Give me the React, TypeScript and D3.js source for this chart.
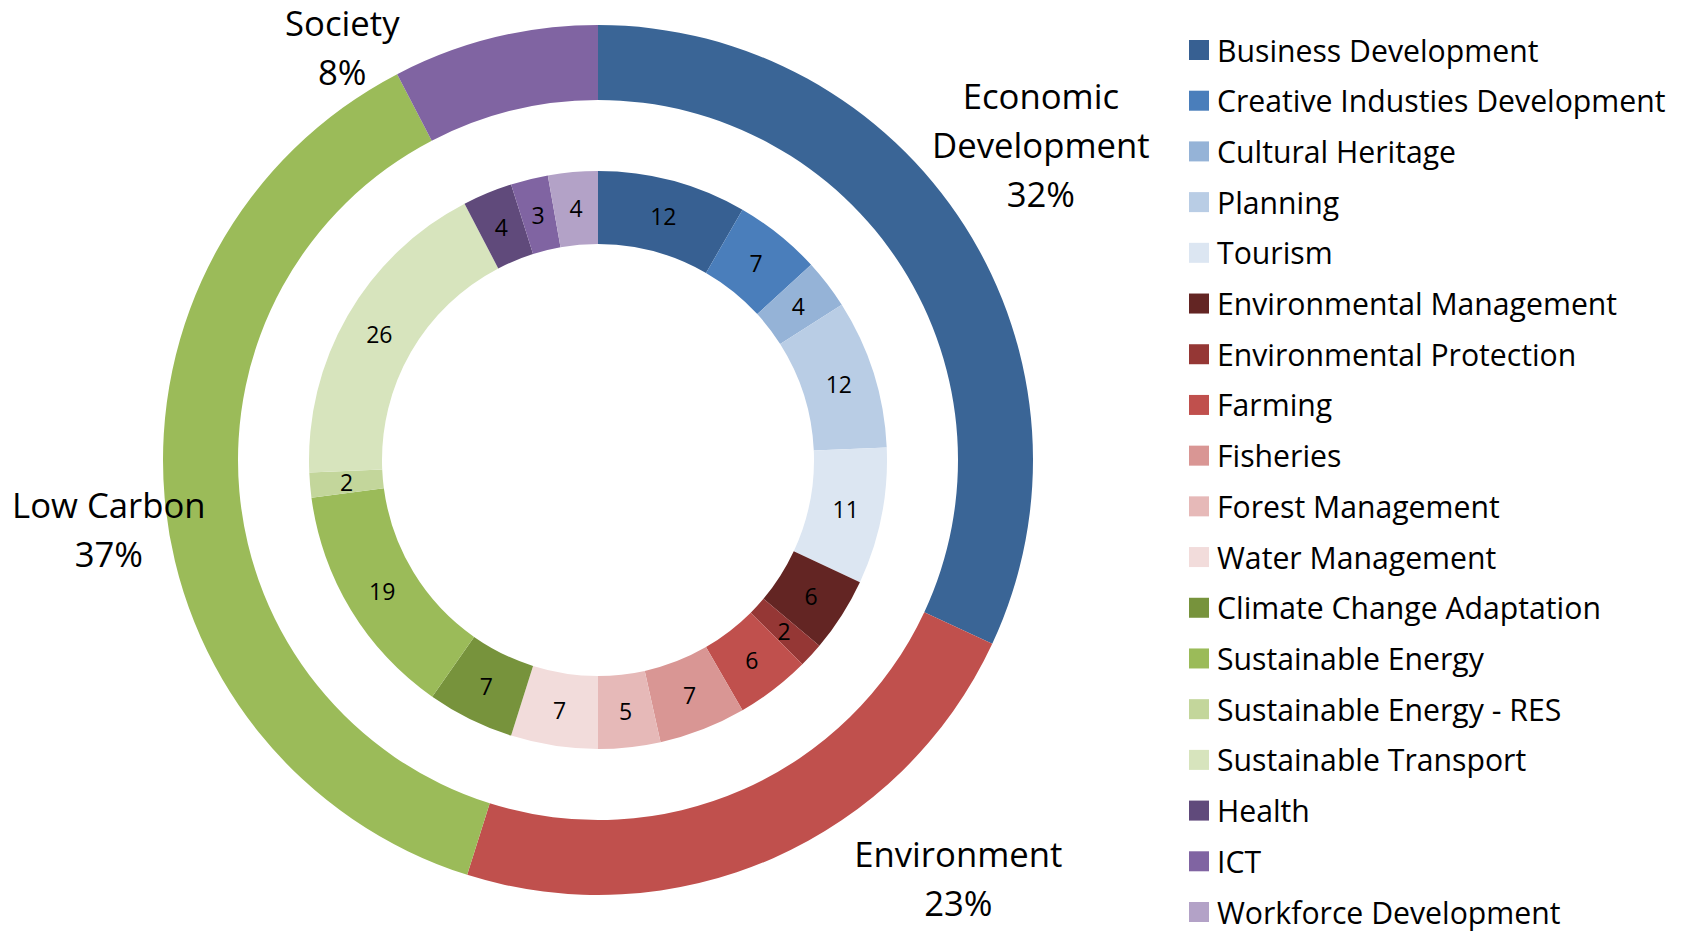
import React, { useRef, useEffect } from 'react';
import * as d3 from 'd3';

// inner ring: themes (in drawing order, clockwise from 12 o'clock)
const themes = [
  'Business Development', 'Creative Industies Development', 'Cultural Heritage', 'Planning', 'Tourism',
  'Environmental Management', 'Environmental Protection', 'Farming', 'Fisheries', 'Forest Management', 'Water Management',
  'Climate Change Adaptation', 'Sustainable Energy', 'Sustainable Energy - RES', 'Sustainable Transport',
  'Health', 'ICT', 'Workforce Development',
];
const themeValues = [12, 7, 4, 12, 11, 6, 2, 6, 7, 5, 7, 7, 19, 2, 26, 4, 3, 4];
const themeGroup = [0, 0, 0, 0, 0, 1, 1, 1, 1, 1, 1, 2, 2, 2, 2, 3, 3, 3];
const themeColors = [
  '#376092', '#4a7ebb', '#95b3d7', '#b9cde5', '#dce6f2',
  '#632523', '#953735', '#c0504d', '#d99694', '#e6b9b8', '#f2dcdb',
  '#77933c', '#9bbb59', '#c3d69b', '#d7e4bd',
  '#604a7b', '#8064a2', '#b3a2c7',
];

// outer ring: groups
const groups = ['Economic Development', 'Environment', 'Low Carbon', 'Society'];
const groupLabelLines = [['Economic', 'Development'], ['Environment'], ['Low Carbon'], ['Society']];
const groupPercents = ['32%', '23%', '37%', '8%'];
const groupColors = ['#3a6596', '#c0504d', '#9bbb59', '#8064a2'];

const W = 1686;
const H = 935;

export default function App() {
  const svgRef = useRef<SVGSVGElement>(null);

  useEffect(() => {
    if (!svgRef.current) return;
    const svg = d3.select(svgRef.current);
    svg.selectAll('*').remove();

    const cx = 598, cy = 460;
    const font = "'Open Sans', Lato, sans-serif";
    const g = svg.append('g').attr('transform', `translate(${cx},${cy})`);

    const pie = d3.pie<number>().sort(null).value(d => d);
    const groupValues = groups.map((_, gi) =>
      d3.sum(themeValues.filter((_, i) => themeGroup[i] === gi)));

    // outer ring
    const outerArc = d3.arc<d3.PieArcDatum<number>>().innerRadius(360).outerRadius(435);
    const outerData = pie(groupValues);
    g.selectAll('path.outer')
      .data(outerData)
      .enter().append('path')
      .attr('class', 'outer')
      .attr('d', outerArc)
      .attr('fill', (_, i) => groupColors[i]);

    // inner ring
    const innerArc = d3.arc<d3.PieArcDatum<number>>().innerRadius(216).outerRadius(289);
    const innerData = pie(themeValues);
    g.selectAll('path.inner')
      .data(innerData)
      .enter().append('path')
      .attr('class', 'inner')
      .attr('d', innerArc)
      .attr('fill', (_, i) => themeColors[i]);

    g.selectAll('text.val')
      .data(innerData)
      .enter().append('text')
      .attr('class', 'val')
      .attr('transform', d => `translate(${innerArc.centroid(d)})`)
      .attr('text-anchor', 'middle')
      .attr('dominant-baseline', 'central')
      .style('font-family', font)
      .style('font-size', '23px')
      .attr('fill', '#000')
      .text(d => d.data);

    // group labels, nudged off the mid-angle like the hand-placed originals
    const labelShift = [-3, -17, -3, -18]; // degrees
    const labelDist = [544, 552, 494, 486];
    outerData.forEach((d, i) => {
      const a = (d.startAngle + d.endAngle) / 2 + labelShift[i] * Math.PI / 180;
      const x = Math.sin(a) * labelDist[i];
      const y = -Math.cos(a) * labelDist[i];
      const lines = [...groupLabelLines[i], groupPercents[i]];
      const lh = 49;
      const t = g.append('text')
        .attr('text-anchor', 'middle')
        .style('font-family', font)
        .style('font-size', '34.7px')
        .attr('fill', '#000');
      lines.forEach((ln, k) => {
        t.append('tspan')
          .attr('x', x)
          .attr('y', y + (k - (lines.length - 1) / 2) * lh)
          .attr('dominant-baseline', 'central')
          .text(ln);
      });
    });

    // legend
    const legendY = d3.scalePoint<string>().domain(themes).range([50, 912]);
    const lg = svg.append('g');
    const rows = lg.selectAll('g.row')
      .data(themes)
      .enter().append('g')
      .attr('class', 'row')
      .attr('transform', d => `translate(1189,${legendY(d)})`);
    rows.append('rect')
      .attr('x', 0).attr('y', -10)
      .attr('width', 20).attr('height', 20)
      .attr('fill', (_, i) => themeColors[i]);
    rows.append('text')
      .attr('x', 28)
      .attr('dominant-baseline', 'central')
      .style('font-family', font)
      .style('font-size', '30.2px')
      .attr('fill', '#000')
      .text(d => d);
  }, []);

  return (
    <svg ref={svgRef} width={W} height={H}
      style={{ position: 'absolute', left: 0, top: 0, background: '#fff' }} />
  );
}
